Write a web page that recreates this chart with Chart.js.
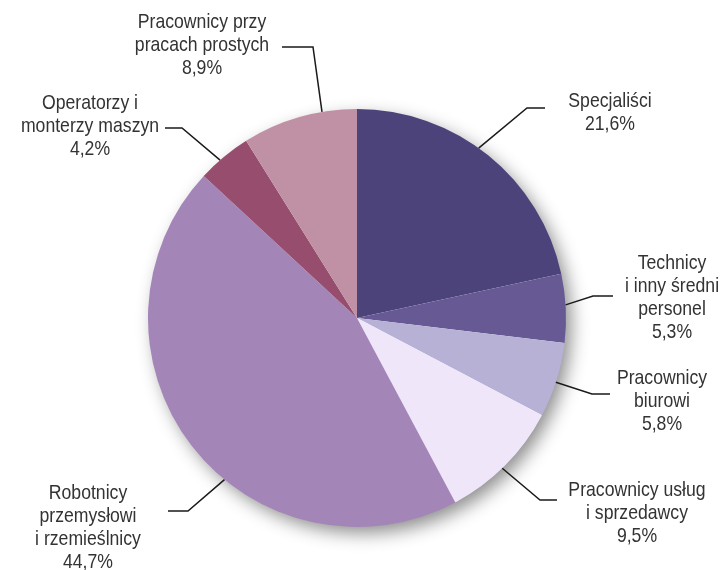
<!DOCTYPE html>
<html>
<head>
<meta charset="utf-8">
<script src="https://cdn.jsdelivr.net/npm/chart.js@4.4.0/dist/chart.umd.min.js"></script>
<style>
  html, body { margin: 0; padding: 0; background: #fff; }
  #wrap { width: 721px; height: 570px; }
</style>
</head>
<body>
<div id="wrap"><canvas id="myChart" width="721" height="570"></canvas></div>
<script>
// data
const categories = [
  'Specjaliści',
  'Technicy i inny średni personel',
  'Pracownicy biurowi',
  'Pracownicy usług i sprzedawcy',
  'Robotnicy przemysłowi i rzemieślnicy',
  'Operatorzy i monterzy maszyn',
  'Pracownicy przy pracach prostych'
];
const shares = [21.6, 5.3, 5.8, 9.5, 44.7, 4.2, 8.9];
const labelLines = [
  ['Specjaliści'],
  ['Technicy', 'i inny średni', 'personel'],
  ['Pracownicy', 'biurowi'],
  ['Pracownicy usług', 'i sprzedawcy'],
  ['Robotnicy', 'przemysłowi', 'i rzemieślnicy'],
  ['Operatorzy i', 'monterzy maszyn'],
  ['Pracownicy przy', 'pracach prostych']
];
const colors = ['#4d437b', '#665994', '#b8b1d6', '#efe6fa', '#a385b8', '#974d6d', '#c090a5'];

// label placement relative to pie centre: direction of line start on the rim,
// elbow point, end of horizontal line, text centre x, first line y
const callouts = [
  { dir: [121, -169], elbow: [170, -210], end: [188, -210], tx: 253, ty: -217 },
  { dir: [207, -13], elbow: [236, -22], end: [256, -22], tx: 315, ty: -55 },
  { dir: [198, 64], elbow: [235, 76], end: [253, 76], tx: 305, ty: 60 },
  { dir: [144, 149], elbow: [183, 182], end: [200, 182], tx: 280, ty: 172 },
  { dir: [-132, 161], elbow: [-169, 193], end: [-189, 193], tx: -269, ty: 175 },
  { dir: [-137, -158], elbow: [-175, -190], end: [-192, -190], tx: -267, ty: -215 },
  { dir: [-35, -206], elbow: [-44, -271], end: [-75, -271], tx: -155, ty: -296 }
];

const FONT = '21px "Liberation Sans Narrow", "Liberation Sans", Arial, sans-serif';
const SQUEEZE = 0.84;
const LINE_H = 23;

const shadowPlugin = {
  id: 'pieShadow',
  beforeDatasetsDraw(chart) {
    const arc = chart.getDatasetMeta(0).data[0];
    if (!arc) return;
    const c = chart.ctx;
    c.save();
    c.shadowColor = 'rgba(0,0,0,0.45)';
    c.shadowBlur = 18;
    c.shadowOffsetX = 6;
    c.shadowOffsetY = 7;
    c.fillStyle = '#fff';
    c.beginPath();
    c.arc(arc.x, arc.y, arc.outerRadius - 1, 0, Math.PI * 2);
    c.fill();
    c.restore();
  }
};

const calloutPlugin = {
  id: 'callouts',
  afterDatasetsDraw(chart) {
    const meta = chart.getDatasetMeta(0);
    const c = chart.ctx;
    c.save();
    meta.data.forEach(function(arc, i) {
      const cx = arc.x, cy = arc.y, r = arc.outerRadius;
      const co = callouts[i];
      const ex = cx + co.elbow[0], ey = cy + co.elbow[1];
      const d = Math.hypot(co.dir[0], co.dir[1]);
      const sx = cx + co.dir[0] / d * r, sy = cy + co.dir[1] / d * r;
      c.strokeStyle = '#1a1a1a';
      c.lineWidth = 1.5;
      c.beginPath();
      c.moveTo(sx, sy);
      c.lineTo(ex, ey);
      c.lineTo(cx + co.end[0], cy + co.end[1]);
      c.stroke();

      c.fillStyle = '#333';
      c.font = FONT;
      c.textAlign = 'center';
      c.textBaseline = 'middle';
      const lines = labelLines[i].concat([shares[i].toFixed(1).replace('.', ',') + '%']);
      lines.forEach(function(t, k) {
        c.save();
        c.translate(cx + co.tx, cy + co.ty + k * LINE_H);
        c.scale(SQUEEZE, 1);
        c.fillText(t, 0, 0);
        c.restore();
      });
    });
    c.restore();
  }
};

const init = function() {
  const ctx = document.getElementById('myChart').getContext('2d');
  new Chart(ctx, {
    type: 'pie',
    data: {
      labels: categories,
      datasets: [{
        data: shares,
        backgroundColor: colors,
        borderWidth: 0
      }]
    },
    options: {
      responsive: false,
      animation: false,
      layout: { padding: { left: 148, right: 155, top: 109, bottom: 43 } },
      plugins: {
        legend: { display: false },
        tooltip: { enabled: false }
      }
    },
    plugins: [shadowPlugin, calloutPlugin]
  });
};

document.addEventListener('DOMContentLoaded', init);
</script>
</body>
</html>
